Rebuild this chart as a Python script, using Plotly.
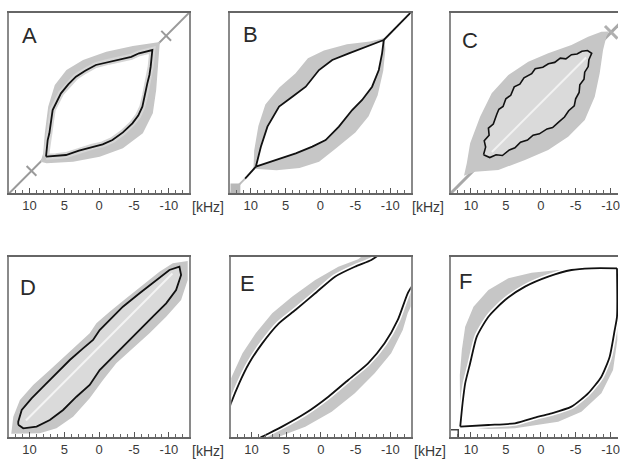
import plotly.graph_objects as go

# ---------------- data (kHz) ----------------
TICK_VALS = [10, 5, 0, -5, -10]
TICK_TEXT = ["10", "5", "0", "-5", "-10"]
PANEL_LABELS = ["A", "B", "C", "D", "E", "F"]
UNIT_LABEL = "[kHz]"

# Panel A
A_BLACK_UPPER = [(7.62, 7.67), (7.5, 6.4), (7.38, 5.29), (7.14, 4.33), (6.9, 2.6), (6.67, 1.0),
                 (5.48, -1.38), (4.4, -2.7), (3.33, -3.76), (2.0, -4.6), (0.48, -5.43), (-1.4, -5.9),
                 (-3.33, -6.38), (-4.6, -6.6), (-5.71, -7.1), (-7.62, -7.57)]
A_BLACK_LOWER = [(7.62, 7.67), (6.2, 7.6), (4.76, 7.43), (2.9, 6.8), (0.95, 6.24), (-0.5, 5.9),
                 (-1.9, 5.29), (-3.4, 4.2), (-4.76, 2.9), (-5.6, 1.8), (-6.19, 0.52), (-6.6, -1.2),
                 (-6.9, -2.8), (-7.2, -4.0), (-7.38, -5.19), (-7.62, -7.57)]
A_GREY_UPPER = [(8.4, 8.4), (8.02, 7.19), (7.79, 4.33), (7.31, 0.52), (6.36, -2.57), (4.69, -4.71),
                (2.31, -6.14), (-1.02, -7.33), (-4.83, -8.14), (-8.17, -8.62), (-8.7, -8.7)]
A_GREY_LOWER = [(8.4, 8.4), (7.54, 8.62), (3.74, 8.38), (-0.07, 7.67), (-3.4, 6.48), (-6.26, 4.33),
                (-7.69, 1.48), (-8.17, -1.86), (-8.4, -5.19), (-8.64, -8.05), (-8.7, -8.7)]
A_CROSSES = [9.7, -9.6]

# Panel B
B_BLACK_UPPER = [(9.26, 9.1), (8.54, 6.24), (7.6, 3.38), (5.93, 0.52), (4.03, -0.9), (2.11, -2.33),
                 (0.21, -4.71), (-1.69, -6.14), (-4.07, -7.1), (-6.46, -8.04), (-9.07, -9.0)]
B_BLACK_LOWER = [(9.26, 9.1), (6.4, 8.14), (3.54, 7.19), (1.17, 6.24), (-0.74, 5.29), (-2.64, 3.38),
                 (-4.54, 1.0), (-5.97, -0.43), (-7.4, -2.33), (-8.36, -4.71), (-8.83, -7.1), (-9.07, -9.0)]
B_GREY_UPPER = [(9.6, 9.4), (9.5, 6.8), (8.9, 3.3), (7.9, 0.2), (5.9, -2.2), (3.6, -4.2),
                (1.8, -6.4), (-0.5, -7.5), (-3.8, -8.4), (-7.1, -8.8), (-9.2, -9.3)]
B_GREY_LOWER = [(9.6, 9.4), (6.3, 9.6), (3.0, 9.3), (0.2, 8.4), (-2.2, 6.5), (-5.0, 4.2),
                (-6.9, 1.9), (-8.2, -1.1), (-9.0, -4.6), (-9.3, -7.6), (-9.2, -9.3)]
B_DIAG_GREY = [13.5, 10.8]
B_DIAG_BLACK = [10.8, -13.5]
B_CORNER = [12.2]

# Panel C
C_BLACK_UPPER = [(8.2, 7.4), (7.9, 6.3), (8.1, 5.4), (7.4, 4.6), (7.5, 3.6), (6.8, 3.0), (6.3, 1.6),
                 (6.0, 0.9), (5.4, 0.5), (5.0, -0.6), (4.3, -1.1), (3.8, -2.3), (3.0, -2.7), (2.4, -3.6),
                 (1.3, -4.2), (0.8, -4.9), (-0.3, -5.1), (-1.1, -5.6), (-2.0, -5.8), (-2.8, -6.4),
                 (-3.6, -6.3), (-4.4, -6.9), (-5.2, -7.0), (-5.9, -7.4), (-6.7, -7.5), (-7.3, -7.1)]
C_BLACK_LOWER = [(8.2, 7.4), (7.3, 7.8), (6.4, 7.4), (5.5, 7.5), (4.5, 6.7), (3.7, 6.4), (2.9, 5.6),
                 (1.9, 5.3), (1.1, 4.6), (0.2, 4.4), (-0.9, 3.7), (-1.7, 3.5), (-2.6, 2.7), (-3.4, 2.0),
                 (-4.0, 1.1), (-4.8, 0.4), (-5.0, -0.6), (-5.5, -1.5), (-5.6, -2.6), (-6.2, -3.4),
                 (-6.3, -4.4), (-6.8, -5.2), (-6.9, -6.2), (-7.3, -7.1)]
C_GREY_UPPER = [(11.0, 10.4), (10.6, 8.62), (10.12, 5.76), (8.69, 1.95), (7.03, -1.38), (4.64, -4.0),
                (1.79, -5.9), (-1.07, -7.1), (-4.4, -8.29), (-6.79, -9.48), (-8.69, -10.19), (-9.8, -10.2)]
C_GREY_LOWER = [(11.0, 10.4), (9.4, 9.81), (6.07, 9.57), (2.26, 8.14), (-1.07, 6.71), (-3.93, 4.81),
                (-6.31, 2.43), (-7.74, -0.9), (-8.45, -4.24), (-8.93, -7.57), (-9.4, -9.48), (-9.8, -10.2)]
C_CROSSES = [-10.1]

# Panel D
D_BLACK_UPPER = [(11.6, 11.1), (11.6, 10.67), (11.1, 9.0), (9.69, 7.33), (8.02, 5.67), (6.12, 3.76),
                 (4.21, 1.86), (2.31, 0.19), (0.88, -1.0), (-0.07, -2.43), (-1.5, -3.86), (-3.4, -5.76),
                 (-5.79, -7.67), (-8.17, -9.57), (-10.07, -11.0), (-11.5, -11.47)]
D_BLACK_LOWER = [(11.6, 11.1), (10.88, 11.62), (8.97, 11.38), (7.07, 10.43), (5.17, 9.0), (3.26, 7.1),
                 (1.36, 5.43), (-0.07, 3.29), (-1.5, 1.86), (-2.45, 0.9), (-3.88, -0.52), (-5.79, -2.43),
                 (-7.69, -4.33), (-9.6, -6.24), (-11.02, -8.14), (-11.74, -10.29), (-11.5, -11.47)]
D_GREY_UPPER = [(12.6, 12.4), (12.31, 9.95), (11.36, 7.57), (9.46, 5.43), (7.07, 3.29), (4.69, 1.14),
                (2.79, -0.52), (1.36, -1.95), (0.4, -3.38), (-1.5, -5.05), (-3.88, -6.95), (-6.26, -8.86),
                (-8.64, -10.76), (-10.55, -11.95), (-12.2, -12.19), (-12.69, -12.3)]
D_GREY_LOWER = [(12.6, 12.4), (11.36, 12.33), (8.5, 12.33), (6.12, 11.62), (3.74, 9.95), (1.36, 7.33),
                (-0.55, 4.71), (-2.45, 2.33), (-4.83, 0.19), (-7.21, -1.95), (-9.6, -4.33), (-11.74, -6.71),
                (-12.69, -9.57), (-12.69, -12.3)]

# Panel E
E_BLACK_UPPER = [(13.3, 9.0), (12.97, 8.04), (11.79, 5.19), (10.36, 2.33), (8.46, -0.52), (6.07, -3.38),
                 (3.69, -5.29), (0.83, -7.67), (-2.02, -10.05), (-4.88, -11.47), (-7.26, -12.43), (-8.4, -13.2)]
E_GREY_UPPER = [(13.3, 3.8), (12.97, 4.48), (11.31, 0.9), (9.4, -1.95), (7.03, -4.81), (4.17, -7.19),
                (0.83, -9.57), (-2.5, -11.47), (-5.36, -12.52), (-6.2, -13.2)]
E_BLACK_LOWER = [(9.2, 13.2), (8.46, 12.81), (5.6, 11.38), (2.26, 9.48), (-1.07, 7.1), (-3.93, 4.71),
                 (-6.79, 2.33), (-9.17, -0.52), (-11.07, -3.86), (-12.5, -7.67), (-13.3, -9.0)]
E_GREY_LOWER = [(6.8, 13.2), (6.07, 12.81), (2.26, 11.38), (-1.55, 9.24), (-4.88, 6.62), (-7.74, 3.76),
                (-10.12, 0.9), (-11.79, -2.43), (-12.5, -4.81), (-13.3, -6.5)]

# Panel F
F_BLACK_UPPER = [(11.54, 11.38), (11.2, 8.0), (10.83, 5.19), (10.12, 2.33), (9.17, -1.48), (7.5, -4.33),
                 (5.12, -6.71), (2.26, -8.62), (-1.07, -10.05), (-4.4, -11.0), (-7.26, -11.24), (-10.93, -11.24)]
F_BLACK_LOWER = [(11.54, 11.38), (7.5, 11.14), (3.69, 10.9), (0.36, 9.95), (-1.55, 9.48), (-4.4, 8.52),
                 (-6.79, 6.62), (-8.69, 4.24), (-9.88, 1.38), (-10.6, -2.43), (-10.93, -4.33), (-10.93, -11.24)]
F_GREY_UPPER = [(11.54, 11.38), (11.6, 4.0), (11.31, 0.43), (10.83, -2.9), (9.64, -5.76), (7.5, -8.14),
                (4.64, -9.81), (1.31, -10.62), (-2.5, -11.0), (-6.31, -11.1), (-10.93, -11.24)]
F_GREY_LOWER = [(11.54, 11.38), (7.5, 11.7), (3.69, 11.62), (0.36, 11.14), (-2.5, 10.67), (-5.83, 9.24),
                (-8.69, 6.62), (-10.36, 3.29), (-10.98, -1.0), (-10.93, -11.24)]
F_CORNER = [12.4]

# ---------------- layout helpers ----------------
W, H = 620, 459
HALF_X = 90.5 / 7.0
HALF_Y = 90.0 / 7.0
BOXES = [(9, 190, 13, 193), (231, 412, 13, 193), (452, 620, 13, 193),
         (9, 190, 257, 437), (232, 412, 257, 437), (452, 620, 257, 437)]
X_RIGHT = [-HALF_X, -HALF_X, -(620 - 542.5) / 7.0, -HALF_X, -HALF_X, -(620 - 542.5) / 7.0]
LETTER_POS = [(30, 35), (251, 34), (472, 41), (28, 287), (248, 283), (467, 281)]
UNIT_POS = [(209, 207), (429, 207), (209, 451), (431, 451)]

GREY = "#c6c6c6"
LIGHT = "#dadada"

fig = go.Figure()


def axn(i):
    return ("x" if i == 1 else f"x{i}", "y" if i == 1 else f"y{i}")


def xs(pts):
    return [p[0] for p in pts]


def ys(pts):
    return [p[1] for p in pts]


def poly(pts, color, i):
    ax, ay = axn(i)
    fig.add_trace(go.Scatter(x=xs(pts), y=ys(pts), fill="toself", fillcolor=color, mode="lines",
                             line=dict(width=0, color=color), hoverinfo="skip", showlegend=False,
                             xaxis=ax, yaxis=ay))


def line(pts, color, width, i, shape="spline"):
    ax, ay = axn(i)
    fig.add_trace(go.Scatter(x=xs(pts), y=ys(pts), mode="lines",
                             line=dict(width=width, color=color, shape=shape, smoothing=0.6),
                             hoverinfo="skip", showlegend=False, xaxis=ax, yaxis=ay))


def loop(upper, lower):
    return upper + lower[::-1]


# ---- A ----
line([(13.5, 13.5), (-13.5, -13.5)], "#9a9a9a", 2, 1, "linear")
for c in A_CROSSES:
    line([(c + 0.7, c - 0.7), (c - 0.7, c + 0.7)], "#9a9a9a", 2, 1, "linear")
poly(loop(A_GREY_UPPER, A_GREY_LOWER), GREY, 1)
poly(loop(A_BLACK_UPPER, A_BLACK_LOWER), "white", 1)
line(loop(A_BLACK_UPPER, A_BLACK_LOWER), "#d6d6d6", 6, 1, "linear")
line(loop(A_BLACK_UPPER, A_BLACK_LOWER), "#111111", 1.8, 1, "linear")

# ---- B ----
poly(loop(B_GREY_UPPER, B_GREY_LOWER), GREY, 2)
poly(loop(B_BLACK_UPPER, B_BLACK_LOWER), "white", 2)
line([(B_DIAG_GREY[0], B_DIAG_GREY[0]), (B_DIAG_GREY[1], B_DIAG_GREY[1])], "#bdbdbd", 2, 2, "linear")
line([(B_DIAG_BLACK[0], B_DIAG_BLACK[0]), (9.26, 9.1)], "#111111", 1.8, 2, "linear")
line([(-9.07, -9.0), (B_DIAG_BLACK[1], B_DIAG_BLACK[1])], "#111111", 1.8, 2, "linear")
line(loop(B_BLACK_UPPER, B_BLACK_LOWER), "#111111", 1.8, 2, "linear")
fig.add_trace(go.Scatter(x=B_CORNER, y=B_CORNER, mode="markers",
                         marker=dict(symbol="square", size=10, color="#b8b8b8"),
                         hoverinfo="skip", showlegend=False, xaxis="x2", yaxis="y2"))

# ---- C ----
line([(13.5, 13.5), (-13.5, -13.5)], "#a8a8a8", 3, 3, "linear")
for c in C_CROSSES:
    line([(c + 0.9, c - 0.9), (c - 0.9, c + 0.9)], "#b0b0b0", 3, 3, "linear")
poly(loop(C_GREY_UPPER, C_GREY_LOWER), GREY, 3)
poly(loop(C_BLACK_UPPER, C_BLACK_LOWER), LIGHT, 3)
line([(7.0, 7.0), (-6.5, -6.5)], "#f2f2f2", 2, 3, "linear")
line(loop(C_BLACK_UPPER, C_BLACK_LOWER), "#111111", 1.6, 3, "linear")

# ---- D ----
poly(loop(D_GREY_UPPER, D_GREY_LOWER), GREY, 4)
poly(loop(D_BLACK_UPPER, D_BLACK_LOWER), LIGHT, 4)
line([(10.5, 10.5), (-10.5, -10.5)], "#f4f4f4", 2, 4, "linear")
line(loop(D_BLACK_UPPER, D_BLACK_LOWER), "#111111", 1.8, 4, "linear")

# ---- E ----
poly(E_GREY_UPPER + E_BLACK_UPPER[::-1], GREY, 5)
poly(E_GREY_LOWER + E_BLACK_LOWER[::-1], GREY, 5)
line(E_BLACK_UPPER, "white", 5, 5)
line(E_BLACK_LOWER, "white", 5, 5)
line(E_BLACK_UPPER, "#111111", 1.8, 5)
line(E_BLACK_LOWER, "#111111", 1.8, 5)

# ---- F ----
poly(F_GREY_UPPER + F_BLACK_UPPER[::-1], GREY, 6)
poly(F_GREY_LOWER + F_BLACK_LOWER[::-1], GREY, 6)
line(F_BLACK_UPPER, "white", 5, 6)
line(F_BLACK_LOWER, "white", 5, 6)
line(F_BLACK_UPPER, "#111111", 1.8, 6)
line(F_BLACK_LOWER, "#111111", 1.8, 6)
fig.add_trace(go.Scatter(x=F_CORNER, y=F_CORNER, mode="markers",
                         marker=dict(symbol="square-open", size=8, color="#444444", line=dict(width=1.5)),
                         hoverinfo="skip", showlegend=False, xaxis="x6", yaxis="y6"))

# ---------------- axes ----------------
layout = dict(width=W, height=H, margin=dict(l=0, r=0, t=0, b=0), paper_bgcolor="white",
              plot_bgcolor="white", showlegend=False,
              font=dict(family="Liberation Sans, Arial, sans-serif", size=13, color="#333333"))
for i in range(1, 7):
    L, R, T, B = BOXES[i - 1]
    clipped = i in (3, 6)
    kx = "xaxis" if i == 1 else f"xaxis{i}"
    ky = "yaxis" if i == 1 else f"yaxis{i}"
    layout[kx] = dict(domain=[L / W, R / W], range=[HALF_X, X_RIGHT[i - 1]], anchor=axn(i)[1],
                      tickmode="array", tickvals=TICK_VALS, ticktext=TICK_TEXT,
                      ticks="inside", ticklen=5, tickwidth=1, tickcolor="#555555",
                      ticklabeloverflow="allow",
                      minor=dict(ticks="inside", ticklen=3, tickwidth=1, dtick=1, tick0=0,
                                 tickcolor="#666666", showgrid=False),
                      showline=True, linecolor="#666666", linewidth=1.5, mirror=True,
                      showgrid=False, zeroline=False, fixedrange=True,
                      tickfont=dict(size=13, color="#3a3a3a"))
    layout[ky] = dict(domain=[1 - B / H, 1 - T / H], range=[HALF_Y, -HALF_Y], anchor=axn(i)[0],
                      showticklabels=False, ticks="", showline=True, linecolor="#8a8a8a",
                      linewidth=1.5, mirror=not clipped, showgrid=False, zeroline=False,
                      fixedrange=True)

ann = []
for lab, (px, py) in zip(PANEL_LABELS, LETTER_POS):
    ann.append(dict(text=lab, x=px / W, y=1 - py / H, xref="paper", yref="paper",
                    showarrow=False, xanchor="center", yanchor="middle",
                    font=dict(size=22, color="#2a2a2a", family="Liberation Sans, Arial, sans-serif")))
for (px, py) in UNIT_POS:
    ann.append(dict(text=UNIT_LABEL, x=px / W, y=1 - py / H, xref="paper", yref="paper",
                    showarrow=False, xanchor="center", yanchor="middle",
                    font=dict(size=14, color="#3a3a3a")))
layout["annotations"] = ann
fig.update_layout(**layout)

fig.write_html("out.html")
